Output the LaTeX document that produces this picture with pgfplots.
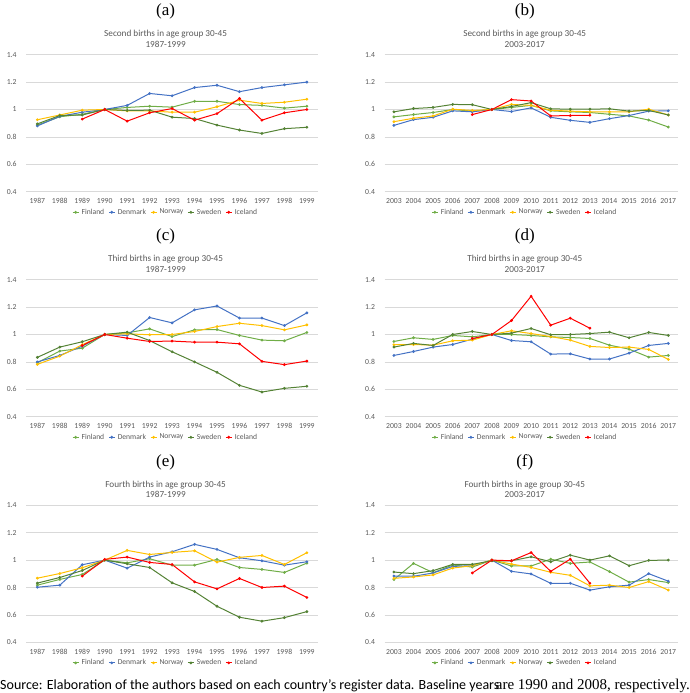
\documentclass[border=0pt]{standalone}
\usepackage{fontspec}
\setmainfont{Carlito}
\newfontfamily\tnr{Liberation Serif}
\usepackage{pgfplots}
\pgfplotsset{compat=1.18}
\definecolor{cFin}{HTML}{70AD47}
\definecolor{cDen}{HTML}{4472C4}
\definecolor{cNor}{HTML}{FFC000}
\definecolor{cSwe}{HTML}{548235}
\definecolor{cIce}{HTML}{FF0000}
\definecolor{gridgray}{HTML}{D9D9D9}
\definecolor{txtgray}{HTML}{595959}
\pgfplotsset{
  panel/.style={
    scale only axis, height=137pt, clip=false,
    ymin=0.4, ymax=1.4, ytick={0.4,0.6,0.8,1,1.2,1.4},
    yticklabels={0.4,0.6,0.8,1,1.2,1.4},
    ymajorgrids, major grid style={draw=gridgray, line width=0.7pt},
    axis line style={draw=none}, major tick length=0pt, tick style={draw=none},
    tick label style={font=\fontsize{7.7}{8}\selectfont, text=txtgray},
    xticklabel style={yshift=-3.5pt},
    yticklabel style={xshift=-6pt},
    legend columns=5,
    legend style={at={(0.5,0)}, anchor=center, xshift=-6.5pt, yshift=-20.6pt,
      draw=none, fill=none, inner sep=0pt, font=\fontsize{7.6}{8}\selectfont, text=txtgray,
      /tikz/every even column/.append style={column sep=2pt},
      /tikz/every odd column/.append style={column sep=0.5pt}},
    legend image code/.code={\draw[mark repeat=2,mark phase=2] plot coordinates {(0pt,0pt)(3pt,0pt)(6pt,0pt)};},
    every axis plot/.append style={line width=1pt, mark=*, mark size=0.85pt, mark options={solid}},
  },
  early/.style={panel, width=292pt, xmin=1986.5, xmax=1999.5,
    xtick={1987,...,1999},
    xticklabels={1987,1988,1989,1990,1991,1992,1993,1994,1995,1996,1997,1998,1999}},
  late/.style={panel, width=293.6pt, xmin=2002.52, xmax=2017.5,
    xtick={2003,...,2017},
    xticklabels={2003,2004,2005,2006,2007,2008,2009,2010,2011,2012,2013,2014,2015,2016,2017}},
}
\newcommand{\paneltitle}[3]{%
  \node[font=\fontsize{9.2}{10.3}\selectfont, text=txtgray, align=center] at (rel axis cs:0.5,1) [xshift=-6.5pt, yshift=16pt] {#2\\#3};
  \node[font=\tnr\fontsize{17}{17}\selectfont] at (rel axis cs:0.5,1) [xshift=-6.5pt, yshift=43pt] {(#1)};
}
\begin{document}
\begin{tikzpicture}
\useasboundingbox (0pt,0pt) rectangle (690pt,693pt);
% (a)
\begin{axis}[early, at={(26.1pt,501.3pt)}, anchor=south west]
\addplot[cFin] coordinates {(1987,0.886)(1988,0.947)(1989,0.965)(1990,1.0)(1991,1.015)(1992,1.024)(1993,1.017)(1994,1.06)(1995,1.06)(1996,1.036)(1997,1.03)(1998,1.01)(1999,1.024)};
\addplot[cDen] coordinates {(1987,0.88)(1988,0.95)(1989,0.98)(1990,1.0)(1991,1.03)(1992,1.117)(1993,1.10)(1994,1.16)(1995,1.177)(1996,1.13)(1997,1.16)(1998,1.18)(1999,1.20)};
\addplot[cNor] coordinates {(1987,0.925)(1988,0.96)(1989,0.995)(1990,1.0)(1991,0.99)(1992,0.99)(1993,0.98)(1994,0.98)(1995,1.02)(1996,1.068)(1997,1.044)(1998,1.053)(1999,1.075)};
\addplot[cSwe] coordinates {(1987,0.895)(1988,0.956)(1989,0.96)(1990,1.0)(1991,0.993)(1992,0.995)(1993,0.944)(1994,0.934)(1995,0.886)(1996,0.85)(1997,0.825)(1998,0.86)(1999,0.87)};
\addplot[cIce] coordinates {(1989,0.93)(1990,1.0)(1991,0.915)(1992,0.976)(1993,1.007)(1994,0.922)(1995,0.97)(1996,1.08)(1997,0.922)(1998,0.976)(1999,1.0)};
\legend{Finland,Denmark,Norway,Sweden,Iceland}
\paneltitle{a}{Second births in age group 30-45}{1987-1999}
\end{axis}
% (b)
\begin{axis}[late, at={(384.5pt,501.3pt)}, anchor=south west]
\addplot[cFin] coordinates {(2003,0.946)(2004,0.963)(2005,0.978)(2006,1.0)(2007,0.988)(2008,1.0)(2009,1.015)(2010,1.03)(2011,0.99)(2012,0.983)(2013,0.978)(2014,0.965)(2015,0.953)(2016,0.923)(2017,0.872)};
\addplot[cDen] coordinates {(2003,0.884)(2004,0.926)(2005,0.943)(2006,0.99)(2007,0.983)(2008,1.0)(2009,0.985)(2010,1.012)(2011,0.943)(2012,0.921)(2013,0.906)(2014,0.933)(2015,0.956)(2016,0.988)(2017,0.99)};
\addplot[cNor] coordinates {(2003,0.911)(2004,0.936)(2005,0.953)(2006,1.002)(2007,0.993)(2008,1.0)(2009,1.037)(2010,1.03)(2011,0.995)(2012,0.988)(2013,0.983)(2014,0.983)(2015,0.983)(2016,1.002)(2017,0.96)};
\addplot[cSwe] coordinates {(2003,0.983)(2004,1.007)(2005,1.015)(2006,1.037)(2007,1.035)(2008,1.0)(2009,1.022)(2010,1.05)(2011,1.005)(2012,1.002)(2013,1.002)(2014,1.005)(2015,0.988)(2016,0.993)(2017,0.96)};
\addplot[cIce] coordinates {(2007,0.963)(2008,1.0)(2009,1.072)(2010,1.062)(2011,0.953)(2012,0.956)(2013,0.958)};
\legend{Finland,Denmark,Norway,Sweden,Iceland}
\paneltitle{b}{Second births in age group 30-45}{2003-2017}
\end{axis}
% (c)
\begin{axis}[early, at={(26.1pt,276.3pt)}, anchor=south west]
\addplot[cFin] coordinates {(1987,0.794)(1988,0.879)(1989,0.90)(1990,1.0)(1991,1.012)(1992,1.041)(1993,0.985)(1994,1.034)(1995,1.036)(1996,0.993)(1997,0.959)(1998,0.954)(1999,1.015)};
\addplot[cDen] coordinates {(1987,0.80)(1988,0.847)(1989,0.915)(1990,1.0)(1991,0.993)(1992,1.124)(1993,1.085)(1994,1.18)(1995,1.208)(1996,1.12)(1997,1.12)(1998,1.065)(1999,1.158)};
\addplot[cNor] coordinates {(1987,0.782)(1988,0.842)(1989,0.925)(1990,1.0)(1991,1.005)(1992,0.998)(1993,1.0)(1994,1.022)(1995,1.058)(1996,1.082)(1997,1.065)(1998,1.034)(1999,1.07)};
\addplot[cSwe] coordinates {(1987,0.833)(1988,0.908)(1989,0.947)(1990,1.0)(1991,1.017)(1992,0.956)(1993,0.874)(1994,0.80)(1995,0.724)(1996,0.629)(1997,0.58)(1998,0.607)(1999,0.622)};
\addplot[cIce] coordinates {(1989,0.92)(1990,1.0)(1991,0.973)(1992,0.949)(1993,0.952)(1994,0.944)(1995,0.944)(1996,0.932)(1997,0.804)(1998,0.78)(1999,0.806)};
\legend{Finland,Denmark,Norway,Sweden,Iceland}
\paneltitle{c}{Third births in age group 30-45}{1987-1999}
\end{axis}
% (d)
\begin{axis}[late, at={(384.5pt,276.3pt)}, anchor=south west]
\addplot[cFin] coordinates {(2003,0.949)(2004,0.976)(2005,0.964)(2006,0.993)(2007,0.983)(2008,1.0)(2009,1.0)(2010,0.993)(2011,0.983)(2012,0.978)(2013,0.971)(2014,0.922)(2015,0.893)(2016,0.835)(2017,0.847)};
\addplot[cDen] coordinates {(2003,0.847)(2004,0.876)(2005,0.908)(2006,0.927)(2007,0.966)(2008,1.0)(2009,0.956)(2010,0.947)(2011,0.857)(2012,0.859)(2013,0.821)(2014,0.821)(2015,0.864)(2016,0.92)(2017,0.935)};
\addplot[cNor] coordinates {(2003,0.925)(2004,0.927)(2005,0.922)(2006,0.954)(2007,0.959)(2008,1.0)(2009,1.027)(2010,1.007)(2011,0.985)(2012,0.959)(2013,0.913)(2014,0.905)(2015,0.908)(2016,0.891)(2017,0.818)};
\addplot[cSwe] coordinates {(2003,0.908)(2004,0.935)(2005,0.92)(2006,1.0)(2007,1.022)(2008,1.0)(2009,1.01)(2010,1.044)(2011,0.998)(2012,1.0)(2013,1.007)(2014,1.017)(2015,0.976)(2016,1.015)(2017,0.993)};
\addplot[cIce] coordinates {(2007,0.971)(2008,1.0)(2009,1.102)(2010,1.279)(2011,1.068)(2012,1.119)(2013,1.046)};
\legend{Finland,Denmark,Norway,Sweden,Iceland}
\paneltitle{d}{Third births in age group 30-45}{2003-2017}
\end{axis}
% (e)
\begin{axis}[early, at={(26.1pt,50.7pt)}, anchor=south west]
\addplot[cFin] coordinates {(1987,0.817)(1988,0.859)(1989,0.895)(1990,1.0)(1991,0.98)(1992,1.01)(1993,0.963)(1994,0.963)(1995,1.005)(1996,0.946)(1997,0.932)(1998,0.91)(1999,0.978)};
\addplot[cDen] coordinates {(1987,0.802)(1988,0.817)(1989,0.966)(1990,1.0)(1991,0.941)(1992,1.022)(1993,1.061)(1994,1.115)(1995,1.078)(1996,1.017)(1997,0.995)(1998,0.963)(1999,0.988)};
\addplot[cNor] coordinates {(1987,0.868)(1988,0.902)(1989,0.944)(1990,1.0)(1991,1.071)(1992,1.041)(1993,1.056)(1994,1.068)(1995,0.985)(1996,1.02)(1997,1.034)(1998,0.968)(1999,1.054)};
\addplot[cSwe] coordinates {(1987,0.832)(1988,0.873)(1989,0.924)(1990,1.0)(1991,0.973)(1992,0.946)(1993,0.834)(1994,0.771)(1995,0.663)(1996,0.583)(1997,0.554)(1998,0.58)(1999,0.624)};
\addplot[cIce] coordinates {(1989,0.883)(1990,1.005)(1991,1.022)(1992,0.983)(1993,0.968)(1994,0.841)(1995,0.79)(1996,0.866)(1997,0.80)(1998,0.81)(1999,0.727)};
\legend{Finland,Denmark,Norway,Sweden,Iceland}
\paneltitle{e}{Fourth births in age group 30-45}{1987-1999}
\end{axis}
% (f)
\begin{axis}[late, at={(384.5pt,50.7pt)}, anchor=south west]
\addplot[cFin] coordinates {(2003,0.858)(2004,0.976)(2005,0.908)(2006,0.964)(2007,0.949)(2008,1.0)(2009,0.957)(2010,0.957)(2011,1.007)(2012,0.976)(2013,0.986)(2014,0.916)(2015,0.839)(2016,0.858)(2017,0.836)};
\addplot[cDen] coordinates {(2003,0.884)(2004,0.882)(2005,0.906)(2006,0.954)(2007,0.959)(2008,1.0)(2009,0.918)(2010,0.899)(2011,0.831)(2012,0.831)(2013,0.781)(2014,0.805)(2015,0.817)(2016,0.901)(2017,0.846)};
\addplot[cNor] coordinates {(2003,0.867)(2004,0.877)(2005,0.892)(2006,0.942)(2007,0.959)(2008,1.0)(2009,0.971)(2010,0.947)(2011,0.911)(2012,0.889)(2013,0.812)(2014,0.817)(2015,0.80)(2016,0.843)(2017,0.781)};
\addplot[cSwe] coordinates {(2003,0.913)(2004,0.901)(2005,0.923)(2006,0.969)(2007,0.969)(2008,0.995)(2009,0.995)(2010,1.024)(2011,0.988)(2012,1.036)(2013,1.0)(2014,1.031)(2015,0.959)(2016,0.998)(2017,1.0)};
\addplot[cIce] coordinates {(2007,0.906)(2008,1.0)(2009,0.995)(2010,1.055)(2011,0.918)(2012,1.007)(2013,0.831)};
\legend{Finland,Denmark,Norway,Sweden,Iceland}
\paneltitle{f}{Fourth births in age group 30-45}{2003-2017}
\end{axis}
% source line
\node[anchor=base west, inner sep=0pt, font=\fontsize{14}{15}\selectfont] at (0pt,4pt) {Source: Elaboration of the authors based on each country’s register data. Baseline years};
\node[anchor=base east, inner sep=0pt, font=\tnr\fontsize{15}{16}\selectfont] at (690pt,4pt) {are 1990 and 2008, respectively.};
\end{tikzpicture}
\end{document}
